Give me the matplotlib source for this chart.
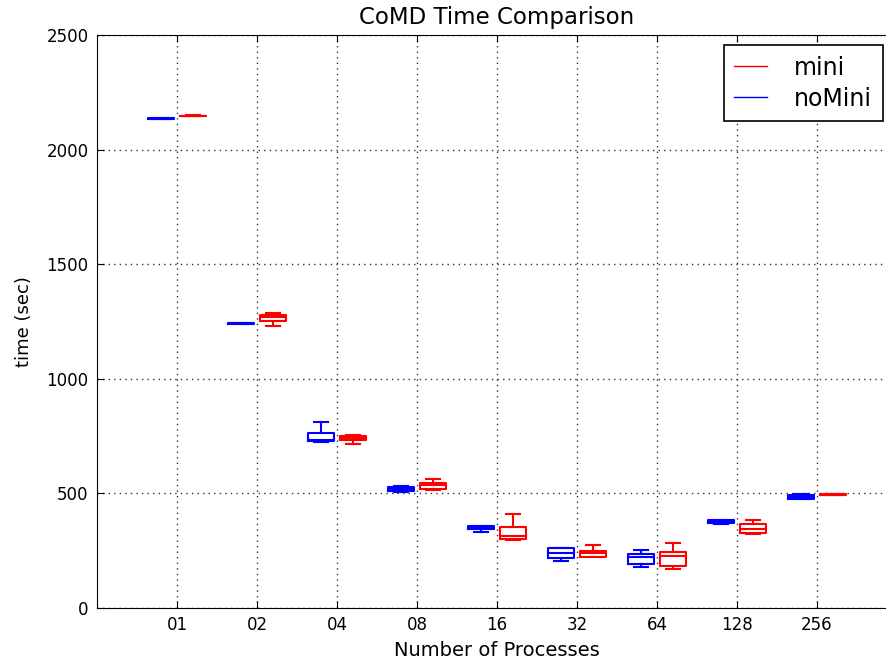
import matplotlib
matplotlib.use("Agg")
import matplotlib.pyplot as plt
from matplotlib.lines import Line2D

# Process counts on the x axis
procs = ["01", "02", "04", "08", "16", "32", "64", "128", "256"]

# Five-number summaries (seconds): lower whisker, q1, median, q3, upper whisker
nomini_whislo = [2133, 1240, 726, 508, 333, 205, 179, 368, 474]
nomini_q1     = [2134, 1241, 727, 510, 343, 220, 191, 372, 476]
nomini_med    = [2135, 1242, 733, 519, 350, 239, 221, 378, 484]
nomini_q3     = [2136, 1244, 762, 530, 356, 260, 234, 382, 494]
nomini_whishi = [2137, 1245, 810, 531, 357, 261, 253, 383, 496]

mini_whislo = [2145, 1232, 717, 517, 295, 224, 172, 322, 492]
mini_q1     = [2146, 1253, 732, 519, 302, 224, 185, 326, 493]
mini_med    = [2147, 1268, 743, 535, 315, 241, 225, 345, 494]
mini_q3     = [2148, 1278, 752, 545, 355, 250, 243, 365, 496]
mini_whishi = [2149, 1289, 755, 563, 410, 275, 285, 384, 497]


def make_stats(lo, q1, med, q3, hi):
    return [dict(whislo=a, q1=b, med=c, q3=d, whishi=e, fliers=[])
            for a, b, c, d, e in zip(lo, q1, med, q3, hi)]


fig = plt.figure(figsize=(8.87, 6.64), dpi=100)
fig.patch.set_facecolor("white")
ax = fig.add_axes([97 / 887, 56 / 664, 800 / 887, 573 / 664])

positions = list(range(1, len(procs) + 1))
offset = 0.2
width = 0.33


def draw(stats, pos, color):
    props = dict(color=color, linewidth=1.5)
    ax.bxp(stats, positions=pos, widths=width, showfliers=False,
           boxprops=props, whiskerprops=props, capprops=props,
           medianprops=props, manage_ticks=False)


draw(make_stats(nomini_whislo, nomini_q1, nomini_med, nomini_q3, nomini_whishi),
     [p - offset for p in positions], "blue")
draw(make_stats(mini_whislo, mini_q1, mini_med, mini_q3, mini_whishi),
     [p + offset for p in positions], "red")

ax.set_xlim(0, 10)
ax.set_ylim(0, 2500)
ax.set_xticks(positions)
ax.set_xticklabels(procs)
ax.set_yticks([0, 500, 1000, 1500, 2000, 2500])
ax.tick_params(direction="in", top=True, right=True, labelsize=12,
               length=5, pad=6)
ax.grid(True, color="#333333", linestyle=(0, (1, 3)), linewidth=1)

ax.set_title("CoMD Time Comparison", fontsize=16.5, pad=8)
ax.set_xlabel("Number of Processes", fontsize=14, labelpad=5)
ax.set_ylabel("time (sec)", fontsize=13, labelpad=10)

handles = [Line2D([], [], color="red", linewidth=1),
           Line2D([], [], color="blue", linewidth=1)]
leg = ax.legend(handles, ["mini", "noMini"], loc="upper right",
                bbox_to_anchor=((883 - 97) / 800, 1 - 10 / 573),
                borderaxespad=0, fontsize=17, fancybox=False, framealpha=1,
                borderpad=0.45, handlelength=1.4, handletextpad=1.15,
                labelspacing=0.3)
leg.get_frame().set_edgecolor("black")
leg.get_frame().set_linewidth(1.2)

fig.savefig("out.png", dpi=100)
